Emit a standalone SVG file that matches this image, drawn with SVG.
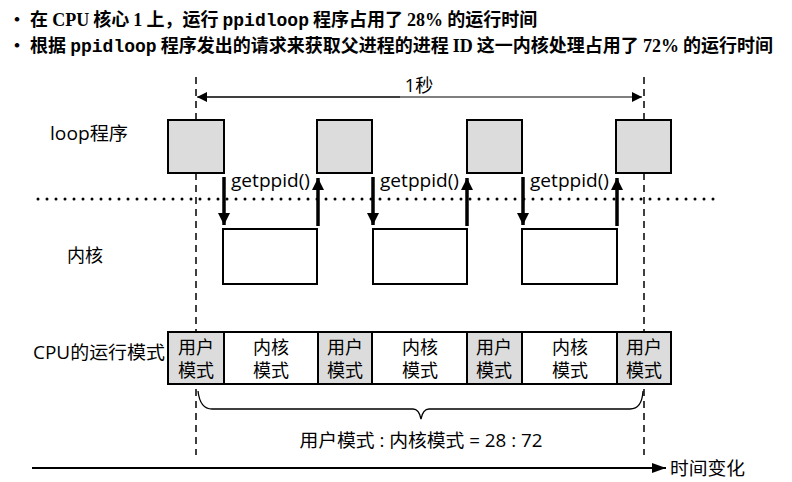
<svg xmlns="http://www.w3.org/2000/svg" width="792" height="482" viewBox="0 0 792 482">
<defs>
<style>
.hd{font-family:"Noto Sans CJK SC","Liberation Sans",sans-serif;font-weight:bold;font-size:18px;fill:#000}
.ser{font-family:"Liberation Serif","Noto Sans CJK SC",serif;font-weight:bold}
.mono{font-family:"Liberation Mono",monospace;font-weight:bold}
.lb{font-family:"Open Sans","Noto Sans CJK SC",sans-serif;font-size:18px;fill:#000}
.ct{text-anchor:middle}
.gbox{fill:#dcdcdc;stroke:#000;stroke-width:2}
.wbox{fill:#fff;stroke:#000;stroke-width:2}
.dash{stroke:#000;stroke-width:1.5;stroke-dasharray:7 5;fill:none}
.thick{stroke:#000;stroke-width:3.5;fill:none}
</style>
<marker id="ah" viewBox="0 0 10 10" refX="10" refY="5" markerWidth="10" markerHeight="10" markerUnits="userSpaceOnUse" orient="auto">
<path d="M0,0 L10,5 L0,10 Z" fill="#000"/>
</marker>
<marker id="big" viewBox="0 0 12 12" refX="12" refY="6" markerWidth="12" markerHeight="12" markerUnits="userSpaceOnUse" orient="auto">
<path d="M0,0 L12,6 L0,12 Z" fill="#000"/>
</marker>
<marker id="tl" viewBox="0 0 14 10" refX="14" refY="5" markerWidth="14" markerHeight="10" markerUnits="userSpaceOnUse" orient="auto">
<path d="M0,0 L14,5 L0,10 Z" fill="#000"/>
</marker>
</defs>
<rect width="792" height="482" fill="#fff"/>

<g id="header">
<text class="hd" x="8" y="26">•  在 <tspan class="ser">CPU</tspan> 核心 <tspan class="ser">1</tspan> 上，运行 <tspan class="mono">ppidloop</tspan> 程序占用了 <tspan class="ser">28%</tspan> 的运行时间</text>
<text class="hd" x="8" y="52">•  根据 <tspan class="mono">ppidloop</tspan> 程序发出的请求来获取父进程的进程 <tspan class="ser">ID</tspan> 这一内核处理占用了 <tspan class="ser">72%</tspan> 的运行时间</text>
</g>

<g id="row-labels">
<text class="lb" x="50" y="140" textLength="78" lengthAdjust="spacingAndGlyphs">loop程序</text>
<text class="lb" x="67" y="262">内核</text>
<text class="lb" x="33" y="359" textLength="132" lengthAdjust="spacingAndGlyphs">CPU的运行模式</text>
</g>

<g id="guides">
<line class="dash" x1="196" y1="77" x2="196" y2="455"/>
<line class="dash" x1="644" y1="77" x2="644" y2="455"/>
<line x1="38" y1="199" x2="720" y2="199" stroke="#000" stroke-width="3" stroke-linecap="round" stroke-dasharray="0 9"/>
</g>

<g id="loop-boxes">
<rect id="loop1" class="gbox" x="168" y="120" width="56" height="53"/>
<rect id="loop2" class="gbox" x="317" y="120" width="55" height="53"/>
<rect id="loop3" class="gbox" x="467" y="120" width="55" height="53"/>
<rect id="loop4" class="gbox" x="616" y="120" width="55" height="53"/>
</g>

<g id="kernel-boxes">
<rect id="k1" class="wbox" x="223" y="229" width="94" height="55"/>
<rect id="k2" class="wbox" x="373" y="229" width="94" height="55"/>
<rect id="k3" class="wbox" x="522" y="229" width="95" height="55"/>
</g>

<g id="connectors">
<line x1="198" y1="97" x2="642" y2="97" stroke="#000" stroke-width="1.2" marker-end="url(#ah)"/>
<line x1="400" y1="97" x2="197" y2="97" stroke="#000" stroke-width="1.2" marker-end="url(#ah)"/>
<line class="thick" x1="224" y1="177" x2="224" y2="225" marker-end="url(#big)"/>
<line class="thick" x1="318" y1="226" x2="318" y2="178" marker-end="url(#big)"/>
<line class="thick" x1="373" y1="177" x2="373" y2="225" marker-end="url(#big)"/>
<line class="thick" x1="467" y1="226" x2="467" y2="178" marker-end="url(#big)"/>
<line class="thick" x1="523" y1="177" x2="523" y2="225" marker-end="url(#big)"/>
<line class="thick" x1="617" y1="226" x2="617" y2="178" marker-end="url(#big)"/>
<line x1="32" y1="468" x2="666" y2="468" stroke="#000" stroke-width="2" marker-end="url(#tl)"/>
<path d="M198,391 Q200,409 212,409 L413,409 Q419,409 421,419 Q423,409 429,409 L630,409 Q642,409 643,391" fill="none" stroke="#000" stroke-width="1.3"/>
</g>

<g id="call-labels">
<text class="lb" x="231" y="187" textLength="79" lengthAdjust="spacingAndGlyphs">getppid()</text>
<text class="lb" x="380" y="187" textLength="79" lengthAdjust="spacingAndGlyphs">getppid()</text>
<text class="lb" x="530" y="187" textLength="79" lengthAdjust="spacingAndGlyphs">getppid()</text>
<text class="lb ct" x="419" y="92">1秒</text>
</g>

<g id="cpu-row">
<rect class="gbox" x="168" y="332" width="56" height="52"/>
<rect class="wbox" x="224" y="332" width="94" height="52"/>
<rect class="gbox" x="318" y="332" width="54" height="52"/>
<rect class="wbox" x="372" y="332" width="95" height="52"/>
<rect class="gbox" x="467" y="332" width="55" height="52"/>
<rect class="wbox" x="522" y="332" width="95" height="52"/>
<rect class="gbox" x="617" y="332" width="54" height="52"/>
<text class="lb ct" x="196" y="354">用户</text><text class="lb ct" x="196" y="377">模式</text>
<text class="lb ct" x="271" y="354">内核</text><text class="lb ct" x="271" y="377">模式</text>
<text class="lb ct" x="345" y="354">用户</text><text class="lb ct" x="345" y="377">模式</text>
<text class="lb ct" x="420" y="354">内核</text><text class="lb ct" x="420" y="377">模式</text>
<text class="lb ct" x="494" y="354">用户</text><text class="lb ct" x="494" y="377">模式</text>
<text class="lb ct" x="570" y="354">内核</text><text class="lb ct" x="570" y="377">模式</text>
<text class="lb ct" x="644" y="354">用户</text><text class="lb ct" x="644" y="377">模式</text>
</g>

<g id="bottom-labels">
<text class="lb ct" x="421" y="447" textLength="243" lengthAdjust="spacingAndGlyphs">用户模式 : 内核模式 = 28 : 72</text>
<text class="lb" x="670" y="475" textLength="75" lengthAdjust="spacingAndGlyphs">时间变化</text>
</g>
</svg>
